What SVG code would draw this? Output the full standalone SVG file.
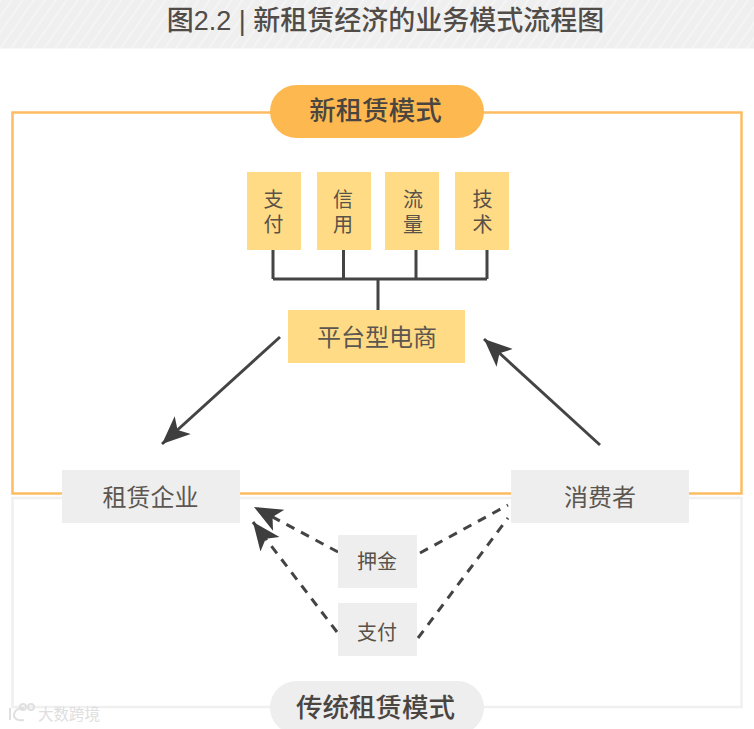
<svg xmlns="http://www.w3.org/2000/svg" width="754" height="729" viewBox="0 0 754 729">
<style>
text{font-family:"Liberation Sans","Noto Sans CJK SC",sans-serif;text-anchor:middle}
.y{fill:#ffdb85}.g{fill:#eeeeee}
.t{fill:#5a5148;font-size:20px}
.m{fill:#5c5650;font-size:24px}
.p{fill:#4a4540;font-size:26.500px;font-weight:500}
.s{fill:none;stroke:#444444;stroke-width:3}
.d{fill:none;stroke:#444444;stroke-width:3;stroke-dasharray:9 7.5}
.w{fill:none;stroke:#e0e0e0;stroke-width:2}
</style>
<defs>
<pattern id="h" width="9" height="9" patternUnits="userSpaceOnUse" patternTransform="rotate(35)">
<rect width="9" height="9" fill="#efefef"/><rect width="1.500" height="9" fill="#f6f6f6"/>
</pattern>
<marker id="a" markerUnits="userSpaceOnUse" markerWidth="32" markerHeight="30" refX="28" refY="13" orient="auto">
<path d="M28 13L0 1L7 13L0 25Z" fill="#3e3e3e"/>
</marker>
</defs>
<rect id="header" width="754" height="48.500" fill="url(#h)"/>
<text x="385.500" y="30" font-size="27" font-weight="500" fill="#514c48">图2.2 | 新租赁经济的业务模式流程图</text>
<rect id="frame-old" x="12.500" y="498" width="729" height="209" fill="none" stroke="#f0f0f0" stroke-width="2.500"/>
<rect id="frame-new" x="12.500" y="112.500" width="729" height="381" fill="none" stroke="#fdbc63" stroke-width="2.500"/>
<g id="connectors">
<path class="s" d="M273 250V279M343.500 250V279M416 250V279M487 250V279M273 279H487M378 279V310"/>
<path class="s" d="M280 337L162 444" marker-end="url(#a)"/>
<path class="s" d="M600 445L484 339" marker-end="url(#a)"/>
<path class="d" d="M338 552L254 507" marker-end="url(#a)"/>
<path class="d" d="M337 632L253 522" marker-end="url(#a)"/>
<path class="d" d="M420 553L508 505"/>
<path class="d" d="M418 638L508 518"/>
</g>
<g id="pill-new"><rect x="270" y="85" width="214" height="53" rx="26.500" fill="#fdb850"/><text class="p" x="375.500" y="120">新租赁模式</text></g>
<g id="pill-old"><rect x="270" y="681" width="214" height="53" rx="26.500" fill="#eeeeee"/><text class="p" x="375.500" y="717">传统租赁模式</text></g>
<g id="n-zhifu"><rect class="y" x="247" y="172" width="54" height="78"/><text class="t"><tspan x="273.500" y="207">支</tspan><tspan x="273.500" y="232">付</tspan></text></g>
<g id="n-xinyong"><rect class="y" x="317" y="172" width="54" height="78"/><text class="t"><tspan x="343" y="207">信</tspan><tspan x="343" y="232">用</tspan></text></g>
<g id="n-liuliang"><rect class="y" x="385" y="172" width="54" height="78"/><text class="t"><tspan x="413" y="207">流</tspan><tspan x="413" y="232">量</tspan></text></g>
<g id="n-jishu"><rect class="y" x="455" y="172" width="54" height="78"/><text class="t"><tspan x="482.500" y="207">技</tspan><tspan x="482.500" y="232">术</tspan></text></g>
<g id="n-platform"><rect class="y" x="288" y="310" width="177" height="53"/><text class="m" x="377" y="346">平台型电商</text></g>
<g id="n-lessor"><rect class="g" x="62" y="470" width="178" height="53"/><text class="m" x="150.500" y="506">租赁企业</text></g>
<g id="n-consumer"><rect class="g" x="511" y="470" width="178" height="53"/><text class="m" x="600" y="506">消费者</text></g>
<g id="n-deposit"><rect class="g" x="338" y="535" width="79" height="53"/><text class="t" x="377" y="569">押金</text></g>
<g id="n-pay"><rect class="g" x="338" y="603" width="79" height="53"/><text class="t" x="377" y="640">支付</text></g>
<path class="w" d="M10 708V720M24 708C16 708 14 712 14 715C14 719 18 721 24 720"/>
<circle class="w" cx="23" cy="707" r="3"/><circle class="w" cx="31" cy="707" r="3"/>
<text x="69" y="720" font-size="15.500" fill="#dedede">大数跨境</text>
</svg>
